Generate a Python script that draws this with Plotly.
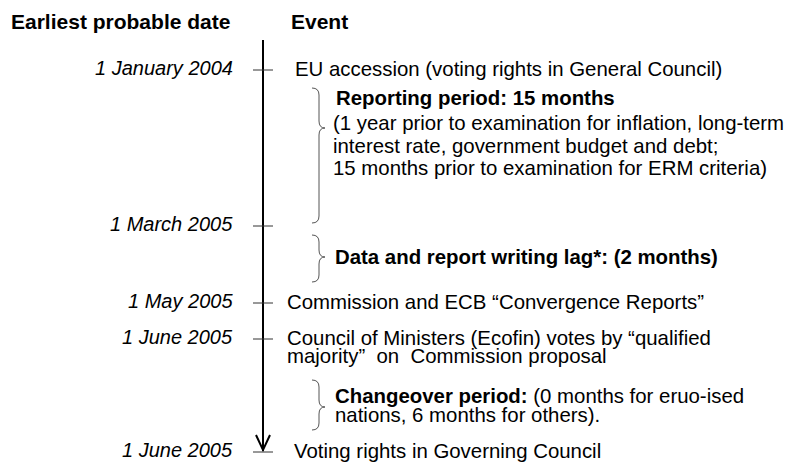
import plotly.graph_objects as go

# ---- data ----
header_left = "Earliest probable date"
header_right = "Event"
dates = ["1 January 2004", "1 March 2005", "1 May 2005", "1 June 2005", "1 June 2005"]
date_y = [70, 226, 303, 339, 452]          # vertical position of each milestone on the timeline
events = [
    ["EU accession (voting rights in General Council)"],
    [],
    ["Commission and ECB \u201cConvergence Reports\u201d"],
    ["Council of Ministers (Ecofin) votes by \u201cqualified", "majority\u201d  on  Commission proposal"],
    ["Voting rights in Governing Council"],
]
event_x = [293, 293, 285, 285, 292]
periods = [
    {"bold": "Reporting period: 15 months", "rest": "",
     "body": ["(1 year prior to examination for inflation, long-term",
              "interest rate, government budget and debt;",
              "15 months prior to examination for ERM criteria)"]},
    {"bold": "Data and report writing lag*: (2 months)", "rest": "", "body": []},
    {"bold": "Changeover period:", "rest": " (0 months for eruo-ised",
     "body": ["nations, 6 months for others)."]},
]

FONT = "Liberation Sans, Arial, sans-serif"
FS = 20.4
W, H = 786, 463

fig = go.Figure()
fig.add_trace(go.Scatter(x=[0, W], y=[0, H], mode="markers", marker=dict(opacity=0),
                         hoverinfo="skip", showlegend=False))

ann = []
shapes = []

def txt(x, y, s, anchor="left", bold=False, italic=False, size=FS):
    if bold:
        s = "<b>" + s + "</b>"
    if italic:
        s = "<i>" + s + "</i>"
    ann.append(dict(x=x, y=y, xref="x", yref="y", text=s, showarrow=False,
                    xanchor=anchor, yanchor="middle",
                    font=dict(family=FONT, size=size, color="black")))

# headers
txt(9, 21, header_left, bold=True, size=21)
txt(289, 21, header_right, bold=True, size=21)

# axis line
AX = 263
BOT = date_y[-1]
shapes.append(dict(type="line", x0=AX, x1=AX, y0=40, y1=BOT - 1, xref="x", yref="y",
                   line=dict(color="black", width=2)))
# arrow head
shapes.append(dict(type="path", xref="x", yref="y",
                   path=f"M {AX-7},{BOT-17} L {AX},{BOT-2} L {AX+7},{BOT-17}",
                   line=dict(color="black", width=2)))

# ticks, dates, events
for d, y, ev, ex in zip(dates, date_y, events, event_x):
    shapes.append(dict(type="line", x0=AX - 10, x1=AX + 10, y0=y, y1=y, xref="x", yref="y",
                       line=dict(color="#333333", width=1)))
    txt(235, y - 2, d, anchor="right", italic=True, size=20)
    for i, line in enumerate(ev):
        txt(ex, y - 1 + i * 18, line)

# braces
def brace(y0, y1, yc, xl=312, xv=319, xc=325, r=7):
    return (f"M {xl},{y0} Q {xv},{y0} {xv},{y0+r} L {xv},{yc-r} Q {xv},{yc} {xc},{yc} "
            f"Q {xv},{yc} {xv},{yc+r} L {xv},{y1-r} Q {xv},{y1} {xl},{y1}")

brace_spans = [(88, 223, 128), (235, 282, 257), (380, 430, 407)]
for (y0, y1, yc) in brace_spans:
    shapes.append(dict(type="path", xref="x", yref="y", path=brace(y0, y1, yc),
                       line=dict(color="#555555", width=1)))

# period texts
p0 = periods[0]
txt(334, 98, p0["bold"], bold=True)
for i, line in enumerate(p0["body"]):
    txt(331, 123 + i * 22.5, line)
p1 = periods[1]
txt(333, 257, p1["bold"], bold=True)
p2 = periods[2]
txt(333, 396, "<b>" + p2["bold"] + "</b>" + p2["rest"])
for i, line in enumerate(p2["body"]):
    txt(333, 415 + i * 18, line)

fig.update_layout(
    width=W, height=H, margin=dict(l=0, r=0, t=0, b=0),
    paper_bgcolor="white", plot_bgcolor="white",
    xaxis=dict(range=[0, W], visible=False, fixedrange=True),
    yaxis=dict(range=[H, 0], visible=False, fixedrange=True),
    annotations=ann, shapes=shapes, showlegend=False,
)
fig.write_html("out.html", config={"displayModeBar": False},
               post_script="document.body.style.margin='0';document.body.style.overflow='hidden';")
